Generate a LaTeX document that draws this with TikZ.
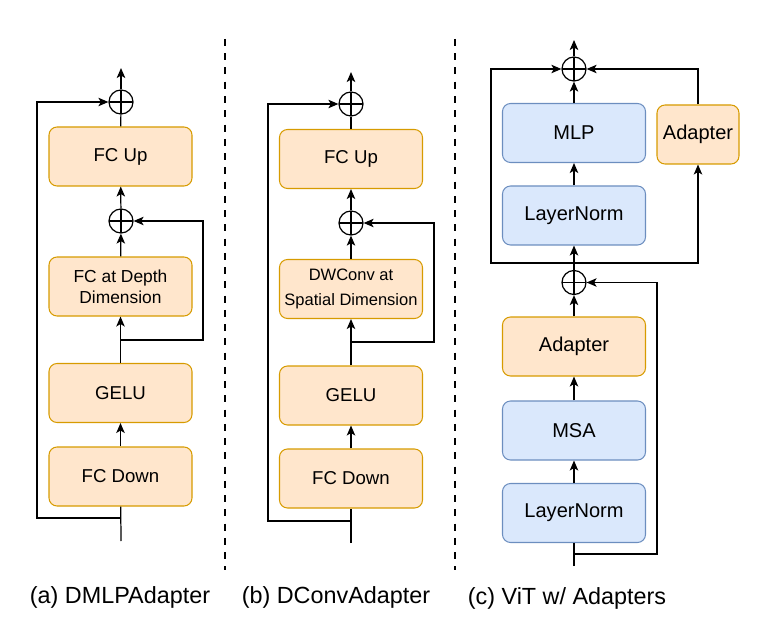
\documentclass[tikz,border=0pt]{standalone}
\usepackage{fontspec}
\setmainfont{Liberation Sans}
\usetikzlibrary{arrows.meta}

\definecolor{orangefill}{HTML}{FFE6CC}
\definecolor{orangeline}{HTML}{D79B00}
\definecolor{bluefill}{HTML}{DAE8FC}
\definecolor{blueline}{HTML}{6C8EBF}

\tikzset{
  arrow/.style={-{Stealth[length=0.2cm,width=0.17cm,inset=0.05cm]}, line width=0.7pt},
  line/.style={line width=0.7pt},
  orangebox/.style={draw=orangeline, fill=orangefill, line width=0.6pt, rounded corners=0.16cm,
    minimum width=2.86cm, minimum height=1.18cm, inner sep=0pt, align=center,
    font=\fontsize{10.6}{12}\selectfont},
  bluebox/.style={orangebox, draw=blueline, fill=bluefill, font=\fontsize{11.4}{13}\selectfont},
  plus/.style={draw, circle, line width=0.7pt, minimum size=0.48cm, inner sep=0pt,
    path picture={\draw[line width=0.7pt] (path picture bounding box.north) -- (path picture bounding box.south)
      (path picture bounding box.west) -- (path picture bounding box.east);}},
  divider/.style={line width=0.045cm, dash pattern=on 0.14cm off 0.145cm},
  caption/.style={anchor=base, font=\fontsize{13.3}{16}\selectfont}
}

\begin{document}
\begin{tikzpicture}
  \useasboundingbox (0cm,0cm) rectangle (15.32cm,-12.76cm);

  % (a) DMLPAdapter
  \node[orangebox] (afcdown) at (2.41cm,-9.53cm) {FC Down};
  \node[orangebox] (agelu) at (2.41cm,-7.86cm) {GELU};
  \node[orangebox, font=\fontsize{9.9}{11.8}\selectfont] (afcdepth) at (2.41cm,-5.73cm) {FC at Depth\\Dimension};
  \node[orangebox] (afcup) at (2.41cm,-3.13cm) {FC Up};
  \node[plus] (aplusb) at (2.42cm,-4.42cm) {};
  \node[plus] (aplusa) at (2.42cm,-2.04cm) {};
  \coordinate (ain) at (2.42cm,-10.82cm);
  \coordinate (askip) at (2.42cm,-10.36cm);
  \coordinate (askipl) at (0.74cm,-10.36cm);
  \coordinate (aloop) at (2.42cm,-6.80cm);
  \coordinate (aloopr) at (4.06cm,-6.80cm);
  \coordinate (aout) at (2.42cm,-1.36cm);
  \draw[line] (ain) -- (afcdown);
  \draw[arrow] (afcdown) -- (agelu);
  \draw[arrow] (agelu) -- (afcdepth);
  \draw[arrow] (afcdepth) -- (aplusb);
  \draw[arrow] (aplusb) -- (afcup);
  \draw[line] (afcup) -- (aplusa);
  \draw[arrow] (aplusa) -- (aout);
  \draw[arrow] (aloop) -- (aloopr) |- (aplusb);
  \draw[arrow] (askip) -- (askipl) |- (aplusa);
  \node[caption] (acap) at (2.40cm,-12.06cm) {(a) DMLPAdapter};

  \draw[divider] (4.50cm,-0.78cm) -- (4.50cm,-11.40cm);

  % (b) DConvAdapter
  \node[orangebox] (bfcdown) at (7.02cm,-9.57cm) {FC Down};
  \node[orangebox] (bgelu) at (7.02cm,-7.91cm) {GELU};
  \node[orangebox, font=\fontsize{9.4}{14.2}\selectfont] (bdwconv) at (7.02cm,-5.78cm) {DWConv at\\Spatial Dimension};
  \node[orangebox] (bfcup) at (7.02cm,-3.18cm) {FC Up};
  \node[plus] (bplusb) at (7.02cm,-4.46cm) {};
  \node[plus] (bplusa) at (7.02cm,-2.08cm) {};
  \coordinate (bin) at (7.02cm,-10.86cm);
  \coordinate (bskip) at (7.02cm,-10.42cm);
  \coordinate (bskipl) at (5.36cm,-10.42cm);
  \coordinate (bloop) at (7.02cm,-6.84cm);
  \coordinate (bloopr) at (8.68cm,-6.84cm);
  \coordinate (bout) at (7.02cm,-1.44cm);
  \draw[line] (bin) -- (bfcdown);
  \draw[arrow] (bfcdown) -- (bgelu);
  \draw[arrow] (bgelu) -- (bdwconv);
  \draw[arrow] (bdwconv) -- (bplusb);
  \draw[arrow] (bplusb) -- (bfcup);
  \draw[line] (bfcup) -- (bplusa);
  \draw[arrow] (bplusa) -- (bout);
  \draw[arrow] (bloop) -- (bloopr) |- (bplusb);
  \draw[arrow] (bskip) -- (bskipl) |- (bplusa);
  \node[caption] (bcap) at (6.72cm,-12.06cm) {(b) DConvAdapter};

  \draw[divider] (9.10cm,-0.78cm) -- (9.10cm,-11.40cm);

  % (c) ViT w/ Adapters
  \node[bluebox] (vlnb) at (11.48cm,-10.26cm) {LayerNorm};
  \node[bluebox] (vmsa) at (11.48cm,-8.61cm) {MSA};
  \node[orangebox, font=\fontsize{11.4}{13}\selectfont] (vadapter) at (11.48cm,-6.93cm) {Adapter};
  \node[bluebox] (vlna) at (11.48cm,-4.31cm) {LayerNorm};
  \node[bluebox] (vmlp) at (11.48cm,-2.66cm) {MLP};
  \node[orangebox, minimum width=1.64cm, font=\fontsize{11.4}{13}\selectfont] (vside) at (13.96cm,-2.69cm) {Adapter};
  \node[plus] (vplusb) at (11.48cm,-5.65cm) {};
  \node[plus] (vplusa) at (11.48cm,-1.38cm) {};
  \coordinate (vin) at (11.48cm,-11.32cm);
  \coordinate (vloop) at (11.48cm,-11.08cm);
  \coordinate (vloopr) at (13.14cm,-11.08cm);
  \coordinate (vsplit) at (11.48cm,-5.26cm);
  \coordinate (vsplitl) at (9.82cm,-5.26cm);
  \coordinate (vout) at (11.48cm,-0.80cm);
  \draw[line] (vin) -- (vlnb);
  \draw[arrow] (vlnb) -- (vmsa);
  \draw[arrow] (vmsa) -- (vadapter);
  \draw[arrow] (vadapter) -- (vplusb);
  \draw[arrow] (vloop) -- (vloopr) |- (vplusb);
  \draw[arrow] (vplusb) -- (vlna);
  \draw[arrow] (vlna) -- (vmlp);
  \draw[arrow] (vmlp) -- (vplusa);
  \draw[arrow] (vplusa) -- (vout);
  \draw[arrow] (vsplit) -- (vsplitl) |- (vplusa);
  \draw[arrow] (vsplit) -| (vside);
  \draw[arrow] (vside) |- (vplusa);
  \node[caption] (vcap) at (11.34cm,-12.08cm) {(c) ViT w/ Adapters};
\end{tikzpicture}
\end{document}
